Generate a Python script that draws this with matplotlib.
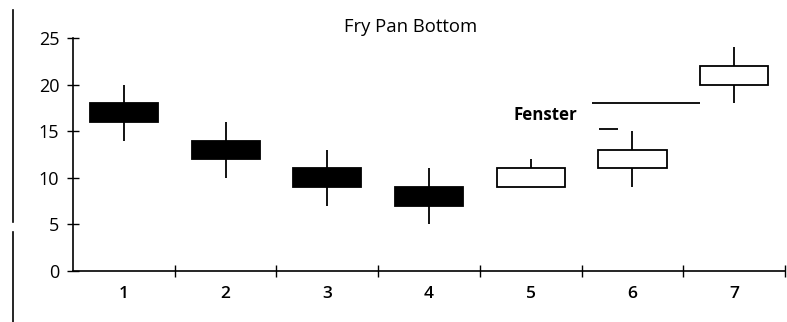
import numpy as np
import matplotlib
matplotlib.use('Agg')
import matplotlib.pyplot as plt
from matplotlib.lines import Line2D

plt.rcParams['font.family'] = ['Open Sans', 'DejaVu Sans']

# candle data
days = [1, 2, 3, 4, 5, 6, 7]
opens = [18, 14, 11, 9, 9, 11, 20]
closes = [16, 12, 9, 7, 11, 13, 22]
highs = [20, 16, 13, 11, 12, 15, 24]
lows = [14, 10, 7, 5, 9, 9, 18]

fenster_level = 18
fenster_small = 15.2

fig = plt.figure(figsize=(7.87, 3.22), dpi=100)
ax = fig.add_axes([0.0928, 0.1584, 0.9047, 0.7236])

width = 0.67
for d, o, c, h, l in zip(days, opens, closes, highs, lows):
    lo_body, hi_body = min(o, c), max(o, c)
    face = 'black' if c < o else 'white'
    ax.vlines(d, l, lo_body, color='black', lw=1.3, zorder=1)
    ax.vlines(d, hi_body, h, color='black', lw=1.3, zorder=1)
    ax.bar(d, hi_body - lo_body, bottom=lo_body, width=width,
           color=face, edgecolor='black', lw=1.3, zorder=2)

# window (Fenster) marker
ax.hlines(fenster_level, 5.6, 6.66, color='black', lw=1.3)
ax.hlines(fenster_small, 5.67, 5.86, color='black', lw=1.3)
ax.text(4.83, 16.7, 'Fenster', fontsize=12.2, fontweight='bold', va='center', ha='left')

ax.set_xlim(0.5, 7.5)
ax.set_ylim(0, 25)
ax.set_yticks([0, 5, 10, 15, 20, 25])
ax.set_xticks(days)
ax.set_xticks(np.arange(1.5, 8, 1), minor=True)
ax.tick_params(axis='x', which='major', length=0, pad=11, labelsize=12.5)
ax.tick_params(axis='x', which='minor', direction='inout', length=8, width=1)
ax.tick_params(axis='y', direction='inout', length=8, width=1, labelsize=13, pad=6)
for lab in ax.get_xticklabels():
    lab.set_fontweight('semibold')
ax.spines['top'].set_visible(False)
ax.spines['right'].set_visible(False)
ax.spines['left'].set_linewidth(1.2)
ax.spines['bottom'].set_linewidth(1.2)

fig.text(0.522, 0.915, 'Fry Pan Bottom', fontsize=13.3, ha='center', va='center')

# scan edge line at the left
fig.add_artist(Line2D([0.0165, 0.0165], [0.31, 0.97], color='black', lw=1.2))
fig.add_artist(Line2D([0.0165, 0.0165], [0.0, 0.28], color='black', lw=1.2))

fig.savefig('out.png', dpi=100)
